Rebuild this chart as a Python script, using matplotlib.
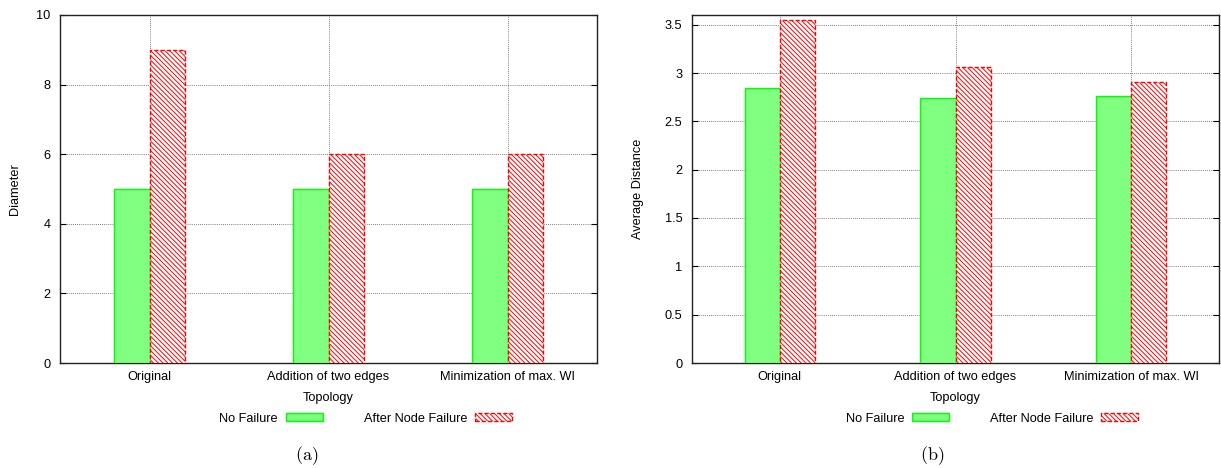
import numpy as np
import matplotlib
matplotlib.use('Agg')
import matplotlib.pyplot as plt

plt.rcParams['font.family'] = ['Liberation Sans', 'DejaVu Sans']
plt.rcParams['mathtext.fontset'] = 'cm'
plt.rcParams['hatch.color'] = '#ff0000'
plt.rcParams['hatch.linewidth'] = 0.7

# ── data ──────────────────────────────────────────────────────────────────────
topologies = ['Original', 'Addition of two edges', 'Minimization of max. WI']
series_names = ['No Failure', 'After Node Failure']

diameter_no_fail = [5, 5, 5]
diameter_after = [9, 6, 6]

avgdist_no_fail = [2.84, 2.74, 2.76]
avgdist_after = [3.55, 3.06, 2.91]

diameter_ticks = [0, 2, 4, 6, 8, 10]
avgdist_ticks = [0, 0.5, 1, 1.5, 2, 2.5, 3, 3.5]

# ── figure ────────────────────────────────────────────────────────────────────
fig = plt.figure(figsize=(12.21, 4.68), dpi=100)
W, H = 1221, 468
ax_a = fig.add_axes([60 / W, 1 - 363 / H, 537 / W, 348 / H])
ax_b = fig.add_axes([692 / W, 1 - 363 / H, 527 / W, 348 / H])

x = np.arange(1, len(topologies) + 1)
bw = 0.2
FS = 9.2


def draw_panel(ax, no_fail, after, ylim, yticks, ylabel, caption,
               ylabel_x, legend_x, caption_x):
    ax.bar(x - bw / 2, no_fail, bw, color='#80ff80', edgecolor='#00ff00',
           linewidth=1.0, label=series_names[0], zorder=3)
    ax.bar(x + bw / 2, after, bw, color='white', edgecolor='#ff0000',
           hatch='\\\\\\\\\\\\\\', linestyle=(0, (3, 1.5)), linewidth=1.0,
           label=series_names[1], zorder=3)
    ax.set_xlim(0.5, 3.5)
    ax.set_ylim(*ylim)
    ax.set_xticks(x)
    ax.set_xticklabels(topologies)
    ax.set_yticks(yticks)
    ax.set_yticklabels([f'{t:g}' for t in yticks])
    ax.tick_params(axis='both', direction='in', labelsize=FS, length=4,
                   width=0.8, top=True, right=True, pad=7)
    ax.tick_params(axis='x', length=0, pad=6)
    ax.grid(True, color='#555555', linestyle=(0, (1, 1.5)), linewidth=0.6,
            zorder=0)
    for sp in ax.spines.values():
        sp.set_linewidth(1.0)
        sp.set_color('#222222')
    ax.set_xlabel('Topology', fontsize=FS, labelpad=6)
    ax.set_ylabel(ylabel, fontsize=FS)
    ax.yaxis.set_label_coords(ylabel_x, 0.5)
    ax.legend(loc='center', bbox_to_anchor=(legend_x, -0.16), ncol=2,
              frameon=False, fontsize=FS, markerfirst=False,
              handlelength=2.9, handleheight=0.55, columnspacing=3.2,
              handletextpad=0.6)
    ax.text(caption_x, -0.265, caption, transform=ax.transAxes, ha='center',
            va='center', fontsize=13)


draw_panel(ax_a, diameter_no_fail, diameter_after, (0, 10), diameter_ticks,
           'Diameter', r'$\mathrm{(a)}$',
           ylabel_x=-0.073, legend_x=0.569, caption_x=0.46)
draw_panel(ax_b, avgdist_no_fail, avgdist_after, (0, 3.6), avgdist_ticks,
           'Average Distance', r'$\mathrm{(b)}$',
           ylabel_x=-0.091, legend_x=0.569, caption_x=0.455)

fig.savefig('out.png', dpi=100)
plt.close(fig)
